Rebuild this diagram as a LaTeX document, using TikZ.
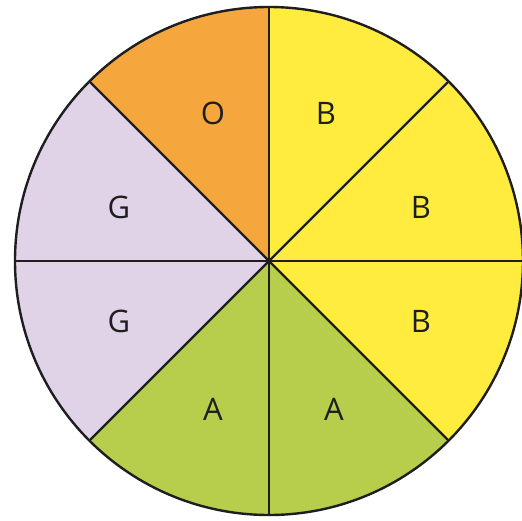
\documentclass[tikz,border=0pt]{standalone}
\usepackage{fontspec}
\setsansfont{Open Sans}
\usepackage{tikz}

\definecolor{spinorange}{RGB}{245,166,60}
\definecolor{spinyellow}{RGB}{255,236,62}
\definecolor{spingreen}{RGB}{182,206,76}
\definecolor{spinlilac}{RGB}{224,211,232}
\definecolor{spinline}{RGB}{30,30,30}

\begin{document}
\begin{tikzpicture}[x=1pt, y=1pt, every node/.style={font=\sffamily\fontsize{31}{36}\selectfont, text=spinline}]
    \useasboundingbox (-269,-259) rectangle (253,261);
    % sectors, counter-clockwise from 0 degrees
    \foreach \a/\c in {0/spinyellow, 45/spinyellow, 90/spinorange, 135/spinlilac, 180/spinlilac, 225/spingreen, 270/spingreen, 315/spinyellow} {
      \fill[\c] (0,0) -- (\a:254) arc[start angle=\a, delta angle=45, radius=254] -- cycle;
    }
    \foreach \a in {0,45,...,315} {
      \draw[line width=2.4pt, spinline] (0,0) -- (\a:254);
    }
    \draw[line width=2.4pt, spinline] (0,0) circle (254);
    
    \node (lblO) at (-56,148) {O};
    \node (lblB1) at (57,148) {B};
    \node (lblB2) at (152,54) {B};
    \node (lblB3) at (152,-60) {B};
    \node (lblA1) at (65,-148) {A};
    \node (lblA2) at (-56,-148) {A};
    \node (lblG1) at (-150,-60) {G};
    \node (lblG2) at (-150,54) {G};
  \end{tikzpicture}
\end{document}
